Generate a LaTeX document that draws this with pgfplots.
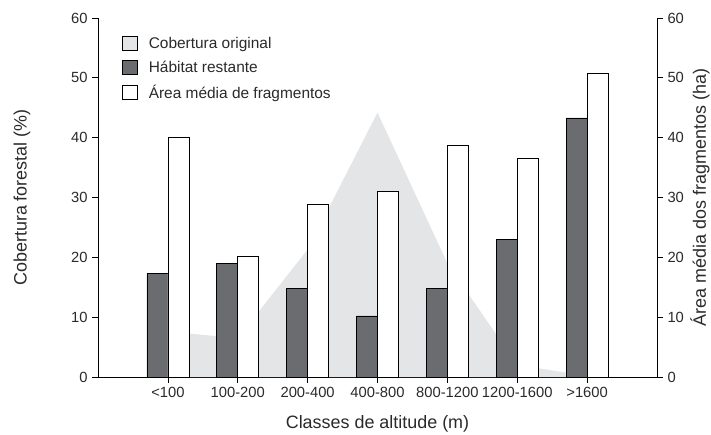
\documentclass[border=0pt]{standalone}
\usepackage{fontspec}
\setmainfont{Liberation Sans}
\usepackage{pgfplots}
\pgfplotsset{compat=1.18}
\definecolor{areagray}{HTML}{E4E5E7}
\definecolor{darkbar}{HTML}{6B6C70}
\definecolor{txt}{HTML}{2A2A2A}
\begin{document}
\begin{tikzpicture}
\pgfplotsset{
  common/.style={
    scale only axis, width=559bp, height=359bp,
    xmin=-1, xmax=7, ymin=0, ymax=60,
    ytick={0,10,...,60},
    tick align=outside,
    major tick length=5.5bp,
    axis line style={black, line width=0.8pt},
    tick style={black, line width=0.7pt},
    tick label style={font=\fontsize{14.8}{17}\selectfont, text=txt},
    label style={font=\fontsize{18}{20}\selectfont, text=txt},
    /pgf/number format/assume math mode=true,
    clip=false,
  },
  sqlegend/.style={legend image code/.code={\draw[#1, line width=0.6pt] (0bp,-7bp) rectangle (15bp,7bp);}},
}
\begin{axis}[common,
  axis x line*=bottom, axis y line*=left,
  xtick={0,...,6},
  xticklabels={{<100},{100-200},{200-400},{400-800},{800-1200},{1200-1600},{>1600}},
  xlabel={Classes de altitude (m)},
  ylabel={Cobertura forestal (\%)},
  ylabel style={at={(axis description cs:0,0.5)}, anchor=center, yshift=76bp},
  xlabel style={at={(axis description cs:0.5,0)}, anchor=center, yshift=-47bp},
  yticklabel style={xshift=-1.5bp},
  xticklabel style={yshift=-1bp},
]
\addplot[fill=areagray, draw=none] coordinates {
 (0,7.6) (1,6.5) (2,21.3) (3,44.2) (4,19.0) (5,2.0) (6,0.2)} \closedcycle;
\addplot[ybar, bar width=0.3, bar shift=-0.15, fill=darkbar, draw=black, line width=0.6pt] coordinates {
 (0,17.3) (1,19.0) (2,14.8) (3,10.2) (4,14.8) (5,23.0) (6,43.3)};
\end{axis}
\begin{axis}[common,
  axis x line=none, axis y line*=right,
  xtick=\empty,
  ylabel={Área média dos fragmentos (ha)},
  ylabel style={at={(axis description cs:1,0.5)}, anchor=center, yshift=-43bp},
  yticklabel style={xshift=1.5bp},
  legend style={at={(21bp,344bp)}, anchor=north west, draw=none, fill=none,
    font=\fontsize{15.5}{17}\selectfont, text=txt, row sep=7bp,
    /tikz/every even column/.append style={column sep=4bp},
    /tikz/every odd column/.append style={column sep=9bp}},
  legend cell align=left,
]
\addlegendimage{sqlegend, fill=areagray, draw=black}
\addlegendentry{Cobertura original}
\addlegendimage{sqlegend, fill=darkbar, draw=black}
\addlegendentry{Hábitat restante}
\addplot[ybar, bar width=0.3, bar shift=0.15, fill=white, draw=black, line width=0.6pt, sqlegend] coordinates {
 (0,40.1) (1,20.2) (2,28.8) (3,31.0) (4,38.8) (5,36.6) (6,50.8)};
\addlegendentry{Área média de fragmentos}
\end{axis}
\pgfresetboundingbox
\path (-98bp,-58bp) rectangle (613bp,377bp);
\end{tikzpicture}
\end{document}
